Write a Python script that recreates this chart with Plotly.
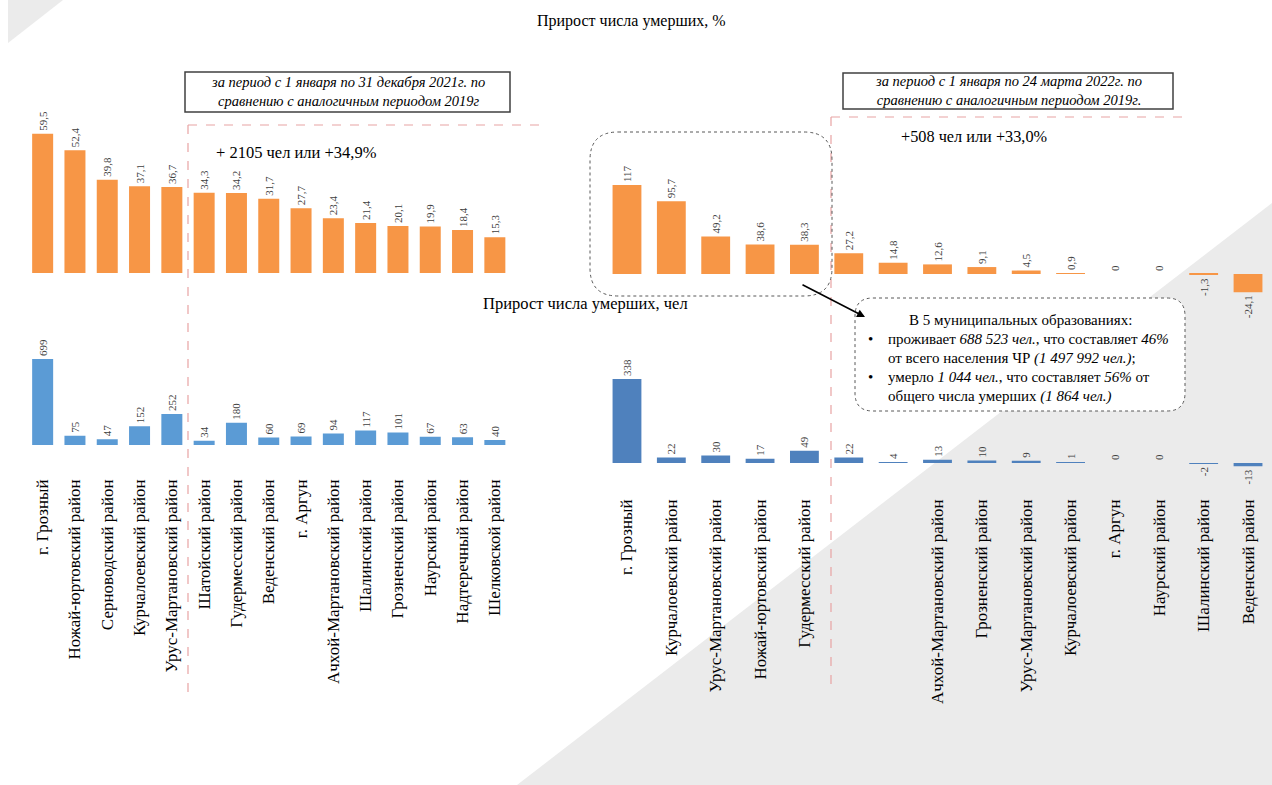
import plotly.graph_objects as go

W, H = 1272, 785
FONT = "Liberation Serif, Times New Roman, serif"

# ---------------- data ----------------
left_cats = ["г. Грозный", "Ножай-юртовский район", "Серноводский район", "Курчалоевский район",
             "Урус-Мартановский район", "Шатойский район", "Гудермесский район", "Веденский район",
             "г. Аргун", "Ачхой-Мартановский район", "Шалинский район", "Грозненский район",
             "Наурский район", "Надтеречный район", "Шелковской район"]
left_pct = [59.5, 52.4, 39.8, 37.1, 36.7, 34.3, 34.2, 31.7, 27.7, 23.4, 21.4, 20.1, 19.9, 18.4, 15.3]
left_abs = [699, 75, 47, 152, 252, 34, 180, 60, 69, 94, 117, 101, 67, 63, 40]

right_cats = ["г. Грозный", "Курчалоевский район", "Урус-Мартановский район", "Ножай-юртовский район",
              "Гудермесский район", "", "", "Ачхой-Мартановский район", "Грозненский район",
              "Урус-Мартановский район", "Курчалоевский район", "г. Аргун", "Наурский район",
              "Шалинский район", "Веденский район"]
right_pct = [117, 95.7, 49.2, 38.6, 38.3, 27.2, 14.8, 12.6, 9.1, 4.5, 0.9, 0, 0, -1.3, -24.1]
right_abs = [338, 22, 30, 17, 49, 22, 4, 13, 10, 9, 1, 0, 0, -2, -13]

ORANGE = "#F79646"
BLUE_L = "#5B9BD5"
BLUE_R = "#4F81BD"


def px(x):
    return x / W


def py(y):
    return 1 - y / H


def fmt(v):
    return ("%g" % v).replace(".", ",")


def bar(vals, color, xa, ya):
    return go.Bar(
        x=list(range(len(vals))), y=vals, xaxis=xa, yaxis=ya,
        marker=dict(color=color, line=dict(width=0)),
        text=[fmt(v) for v in vals], textposition="outside", textangle=-90,
        constraintext="none", cliponaxis=False,
        textfont=dict(family=FONT, size=11, color="#404040"),
        hoverinfo="skip", showlegend=False,
    )


fig = go.Figure()
fig.add_trace(bar(left_pct, ORANGE, "x", "y"))
fig.add_trace(bar(left_abs, BLUE_L, "x2", "y2"))
fig.add_trace(bar(right_pct, ORANGE, "x3", "y3"))
fig.add_trace(bar(right_abs, BLUE_R, "x4", "y4"))

hidden = dict(visible=False, showgrid=False, zeroline=False, fixedrange=True)
xbase = dict(range=[-0.5, 14.5], showgrid=False, zeroline=False, showline=False, ticks="",
             fixedrange=True)

L_DOM = [px(26.5), px(511)]
R_DOM = [px(604.8), px(1270.2)]

fig.update_layout(
    width=W, height=H,
    margin=dict(l=0, r=0, t=0, b=0),
    paper_bgcolor="white", plot_bgcolor="rgba(0,0,0,0)",
    bargap=0.35,
    font=dict(family=FONT, color="black"),
    xaxis=dict(xbase, domain=L_DOM, anchor="y", showticklabels=False),
    yaxis=dict(hidden, domain=[py(273), py(115)], range=[0, 67.5], anchor="x"),
    xaxis2=dict(xbase, domain=L_DOM, anchor="y2", tickmode="array",
                tickvals=list(range(len(left_cats))), ticktext=left_cats,
                tickangle=-90, ticklabelstandoff=30,
                tickfont=dict(family=FONT, size=17, color="black")),
    yaxis2=dict(hidden, domain=[py(445), py(330)], range=[0, 935], anchor="x2"),
    xaxis3=dict(xbase, domain=R_DOM, anchor="y3", showticklabels=False),
    yaxis3=dict(hidden, domain=[py(300), py(150)], range=[-34.2, 163], anchor="x3"),
    xaxis4=dict(xbase, domain=R_DOM, anchor="y4", tickmode="array",
                tickvals=list(range(len(right_cats))), ticktext=right_cats,
                tickangle=-90, ticklabelstandoff=25,
                tickfont=dict(family=FONT, size=17, color="black")),
    yaxis4=dict(hidden, domain=[py(470), py(360)], range=[-28.2, 415], anchor="x4"),
)


def poly(points):
    return "M " + " L ".join(f"{px(x)},{py(y)}" for x, y in points) + " Z"


def rrect(x0, y0, x1, y1, r):
    p = [
        f"M {px(x0 + r)},{py(y0)}",
        f"L {px(x1 - r)},{py(y0)}",
        f"Q {px(x1)},{py(y0)} {px(x1)},{py(y0 + r)}",
        f"L {px(x1)},{py(y1 - r)}",
        f"Q {px(x1)},{py(y1)} {px(x1 - r)},{py(y1)}",
        f"L {px(x0 + r)},{py(y1)}",
        f"Q {px(x0)},{py(y1)} {px(x0)},{py(y1 - r)}",
        f"L {px(x0)},{py(y0 + r)}",
        f"Q {px(x0)},{py(y0)} {px(x0 + r)},{py(y0)}",
        "Z",
    ]
    return " ".join(p)


PINK = "#E8A3A3"
shapes = [
    # background triangles
    dict(type="path", path=poly([(8, 0), (63, 0), (8, 43)]), xref="paper", yref="paper",
         fillcolor="#EBEBEB", line=dict(width=0), layer="below"),
    dict(type="path", path=poly([(517, 785), (1272, 785), (1272, 203)]), xref="paper", yref="paper",
         fillcolor="#EBEBEB", line=dict(width=0), layer="below"),
    # pink dashed separators
    dict(type="line", xref="paper", yref="paper", x0=px(188), x1=px(188), y0=py(125), y1=py(695),
         line=dict(color=PINK, width=1.2, dash="dash")),
    dict(type="line", xref="paper", yref="paper", x0=px(188), x1=px(545), y0=py(125), y1=py(125),
         line=dict(color=PINK, width=1.2, dash="dash")),
    dict(type="line", xref="paper", yref="paper", x0=px(831), x1=px(831), y0=py(117), y1=py(688),
         line=dict(color=PINK, width=1.2, dash="dash")),
    dict(type="line", xref="paper", yref="paper", x0=px(831), x1=px(1185), y0=py(117), y1=py(117),
         line=dict(color=PINK, width=1.2, dash="dash")),
    # period boxes
    dict(type="rect", xref="paper", yref="paper", x0=px(185), x1=px(510), y0=py(112), y1=py(72),
         line=dict(color="#404040", width=1.5), fillcolor="white"),
    dict(type="rect", xref="paper", yref="paper", x0=px(843), x1=px(1173), y0=py(109), y1=py(73),
         line=dict(color="#404040", width=1.5), fillcolor="white"),
    # rounded dashed boxes
    dict(type="path", path=rrect(590, 132, 832, 296, 28), xref="paper", yref="paper",
         line=dict(color="#595959", width=1, dash="dot")),
    dict(type="path", path=rrect(855, 298, 1185, 411, 18), xref="paper", yref="paper",
         fillcolor="white", line=dict(color="#595959", width=1, dash="dot")),
]
fig.update_layout(shapes=shapes)


def txt(x, y, s, size=16, xanchor="center", italic=False):
    return dict(x=px(x), y=py(y), xref="paper", yref="paper", text=s, showarrow=False,
                xanchor=xanchor, yanchor="middle",
                font=dict(family=FONT, size=size, color="black",
                          style="italic" if italic else "normal"))


annotations = [
    txt(631, 21, "Прирост числа умерших, %", size=16),
    txt(585, 303, "Прирост числа умерших, чел", size=16.5),
    txt(296, 153, "+ 2105 чел или +34,9%", size=16.5, xanchor="center"),
    txt(974, 137, "+508 чел или +33,0%", size=16.3),
    txt(347.5, 92, "за период с 1 января по 31 декабря 2021г. по<br>сравнению с аналогичным периодом 2019г",
        size=14.5, italic=True),
    txt(1008, 91, "за период с 1 января по 24 марта 2022г. по<br>сравнению с аналогичным периодом 2019г.",
        size=14.5, italic=True),
    txt(1020, 320, "В 5 муниципальных образованиях:", size=15),
    txt(870, 339, "•", size=15),
    txt(886, 339, "проживает <i>688 523 чел.</i>, что составляет <i>46%</i>", size=15, xanchor="left"),
    txt(886, 358, "от всего населения ЧР <i>(1 497 992 чел.)</i>;", size=15, xanchor="left"),
    txt(870, 377, "•", size=15),
    txt(886, 377, "умерло <i>1 044 чел.</i>, что составляет <i>56%</i> от", size=15, xanchor="left"),
    txt(886, 396, "общего числа умерших <i>(1 864 чел.)</i>", size=15, xanchor="left"),
    dict(x=px(865), y=py(317), xref="paper", yref="paper", text="", showarrow=True,
         ax=801 - 865, ay=284 - 317, arrowhead=2, arrowsize=1, arrowwidth=1.6, arrowcolor="black"),
]
fig.update_layout(annotations=annotations)

fig.write_html("out.html", config={"displayModeBar": False},
               post_script="document.body.style.margin='0px';")
